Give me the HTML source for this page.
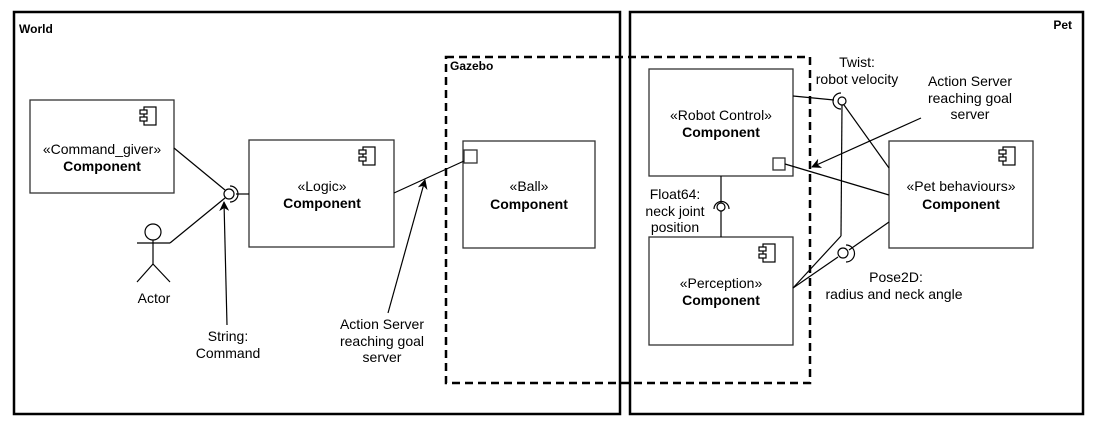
<!DOCTYPE html>
<html><head><meta charset="utf-8"><style>
html,body{margin:0;padding:0;background:#fff;}
svg{display:block;}
text{font-family:"Liberation Sans",sans-serif;font-size:14px;fill:#000;}
.b{font-weight:bold;}
</style></head><body>
<svg width="1094" height="425" viewBox="0 0 1094 425" xmlns="http://www.w3.org/2000/svg">
<defs><marker id="ar" markerWidth="10" markerHeight="10" refX="9" refY="5" orient="auto" markerUnits="userSpaceOnUse"><path d="M0,0 L10,5 L0,10 L3,5 Z" fill="#000"/></marker></defs>
<g fill="none" stroke="#000">
<rect x="14" y="12" width="606" height="402" stroke-width="2.5"/>
<rect x="630" y="12" width="453" height="402" stroke-width="2.5"/>
<rect x="446" y="57" width="364" height="326" stroke-width="2.5" stroke-dasharray="8,5"/>
<g stroke="#333" stroke-width="1.3">
<rect x="30" y="100" width="144" height="93"/>
<rect x="249" y="140" width="145" height="107"/>
<rect x="463" y="141" width="132" height="107"/>
<rect x="649" y="69" width="144" height="107"/>
<rect x="649" y="237" width="144" height="108"/>
<rect x="889" y="141" width="144" height="107"/>
<rect x="464" y="150" width="13" height="13"/>
<rect x="773" y="158" width="12" height="12"/>
</g>
<g stroke-width="1.2">
<g id="ic"><rect x="144" y="107" width="12" height="18"/><rect x="140" y="110" width="7" height="4" fill="#fff"/><rect x="140" y="117" width="7" height="4" fill="#fff"/></g>
<use href="#ic" x="219" y="40"/>
<use href="#ic" x="859" y="40"/>
<use href="#ic" x="619" y="137"/>
<!-- actor -->
<circle cx="153" cy="232" r="8"/>
<line x1="153" y1="240" x2="153" y2="264"/>
<line x1="137" y1="243" x2="170" y2="243"/>
<line x1="153" y1="264" x2="137" y2="282"/>
<line x1="153" y1="264" x2="170" y2="282"/>
<!-- String interface -->
<circle cx="229" cy="194" r="5"/>
<path d="M230,186 A8,8 0 0 1 230,202"/>
<line x1="174" y1="148" x2="225" y2="190"/>
<line x1="170" y1="243" x2="225" y2="198"/>
<line x1="236" y1="194" x2="249" y2="194"/>
<line x1="227" y1="325" x2="224" y2="202" marker-end="url(#ar)"/>
<!-- logic to ball -->
<line x1="394" y1="193" x2="464" y2="161"/>
<line x1="388" y1="313" x2="425" y2="180" marker-end="url(#ar)"/>
<!-- twist -->
<circle cx="842" cy="101" r="4"/>
<path d="M841,93 A8,8 0 0 0 841,109"/>
<line x1="793" y1="96" x2="834" y2="100"/>
<line x1="844" y1="105" x2="889" y2="168"/>
<line x1="842" y1="105" x2="841" y2="236"/>
<line x1="841" y1="236" x2="793" y2="288"/>
<!-- pose2d -->
<circle cx="843" cy="253" r="5"/>
<path d="M846,245 A8,8 0 0 1 846,262"/>
<line x1="889" y1="222" x2="849" y2="250"/>
<line x1="838" y1="257" x2="793" y2="288"/>
<!-- port line -->
<line x1="785" y1="164" x2="889" y2="195"/>
<line x1="921" y1="118" x2="812" y2="167" marker-end="url(#ar)"/>
<!-- float64 -->
<line x1="721" y1="176" x2="721" y2="203"/>
<circle cx="721" cy="207" r="4"/>
<path d="M714,209 A7.5,7.5 0 0 1 729,209"/>
<line x1="721" y1="211" x2="721" y2="237"/>
</g>
</g>
<text x="19" y="33" class="b" style="font-size:12px">World</text>
<text x="1072" y="29" class="b" text-anchor="end" style="font-size:12px">Pet</text>
<text x="450" y="70" class="b" style="font-size:12px">Gazebo</text>
<g text-anchor="middle">
<text x="102" y="154">«Command_giver»</text><text x="102" y="171" class="b">Component</text>
<text x="322" y="191">«Logic»</text><text x="322" y="208" class="b">Component</text>
<text x="529" y="191">«Ball»</text><text x="529" y="209" class="b">Component</text>
<text x="721" y="120">«Robot Control»</text><text x="721" y="137" class="b">Component</text>
<text x="721" y="288">«Perception»</text><text x="721" y="305" class="b">Component</text>
<text x="961" y="191">«Pet behaviours»</text><text x="961" y="209" class="b">Component</text>
<text x="154" y="303">Actor</text>
<text x="228" y="341">String:</text><text x="228" y="358">Command</text>
<text x="382" y="329">Action Server</text><text x="382" y="346">reaching goal</text><text x="382" y="362">server</text>
<text x="857" y="67">Twist:</text><text x="857" y="84">robot velocity</text>
<text x="970" y="86">Action Server</text><text x="970" y="103">reaching goal</text><text x="970" y="119">server</text>
<text x="675" y="199">Float64:</text><text x="675" y="216">neck joint</text><text x="675" y="232">position</text>
<text x="896" y="282">Pose2D:</text><text x="894" y="299">radius and neck angle</text>
</g>
</svg>
</body></html>
